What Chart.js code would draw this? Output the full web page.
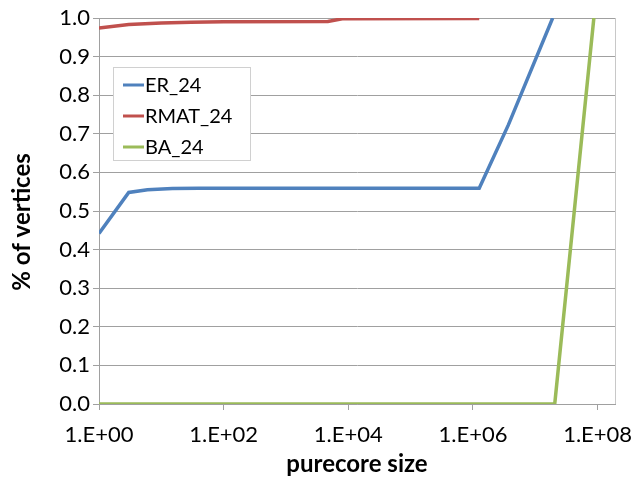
<!DOCTYPE html>
<html>
<head>
<meta charset="utf-8">
<script src="https://cdn.jsdelivr.net/npm/chart.js@4"></script>
<style>
    body { margin: 0; background: #ffffff; }
</style>
</head>
<body>
<canvas id="chart" width="632" height="480"></canvas>
<script>

// data

const seriesNames = ["ER_24", "RMAT_24", "BA_24"];

const erX = [1, 3, 6, 15, 40, 1260000, 3700000, 19000000];
const erY = [0.442, 0.548, 0.555, 0.558, 0.559, 0.559, 0.723, 1.0];

const rmatX = [1, 3, 10, 30, 100, 4700, 8000, 1260000];
const rmatY = [0.974, 0.983, 0.987, 0.989, 0.990, 0.991, 0.998, 0.999];

const baX = [1, 20500000, 87000000];
const baY = [0, 0, 1.0];

const xTickValues = [1, 100, 10000, 1000000, 100000000];
const xTickLabels = ["1.E+00", "1.E+02", "1.E+04", "1.E+06", "1.E+08"];

const seriesColors = ["#4F81BD", "#C0504D", "#9BBB59"];

const yTitle = "% of vertices";


window.onload = function () {

    drawChart();

};


function toPoints(xs, ys) {

    let pts = [];

    for (let i = 0; i < xs.length; i++) {
        pts.push({ x: xs[i], y: ys[i] });
    }

    return pts;

}


// legend sits inside the plot, like the Excel one
const insideLegend = {

    id: "insideLegend",

    afterDatasetsDraw(chart) {

        const ctx = chart.ctx;

        ctx.save();

        ctx.fillStyle = "#ffffff";
        ctx.fillRect(113, 67, 138, 93);
        ctx.strokeStyle = "#d0d0d0";
        ctx.lineWidth = 1;
        ctx.strokeRect(113.5, 67.5, 137, 93);

        ctx.font = "20px Lato";
        ctx.textBaseline = "middle";

        chart.data.datasets.forEach(function (ds, i) {

            let y = 85 + i * 31;

            ctx.strokeStyle = ds.borderColor;
            ctx.lineWidth = 3;
            ctx.beginPath();
            ctx.moveTo(123, y);
            ctx.lineTo(144, y);
            ctx.stroke();

            ctx.fillStyle = "#000000";
            ctx.fillText(ds.label, 145, y + 1);

        });

        // right border of the plot
        const a = chart.chartArea;
        ctx.strokeStyle = "#c8c8c8";
        ctx.lineWidth = 1;
        ctx.beginPath();
        ctx.moveTo(a.right + 0.5, a.top);
        ctx.lineTo(a.right + 0.5, a.bottom);
        ctx.stroke();

        // y axis title, a bit below the middle as in the picture
        ctx.translate(22, 222);
        ctx.rotate(-Math.PI / 2);
        ctx.font = "bold 24px Lato";
        ctx.fillStyle = "#000000";
        ctx.textAlign = "center";
        ctx.textBaseline = "middle";
        ctx.fillText(yTitle, 0, 0);

        ctx.restore();

    }

};


function drawChart() {

    const ctx = document.getElementById("chart").getContext("2d");

    const allX = [erX, rmatX, baX];
    const allY = [erY, rmatY, baY];

    let datasets = seriesNames.map(function (name, i) {
        return {
            label: name,
            data: toPoints(allX[i], allY[i]),
            borderColor: seriesColors[i],
            backgroundColor: seriesColors[i],
            borderWidth: 3.5,
            pointRadius: 0,
            tension: 0,
            clip: 0
        };
    });

    new Chart(ctx, {

        type: "line",

        data: { datasets: datasets },

        plugins: [insideLegend],

        options: {

            responsive: false,
            animation: false,

            layout: {
                padding: { top: 18, right: 17, left: 0, bottom: 0 }
            },

            plugins: {
                legend: { display: false },
                tooltip: { enabled: false }
            },

            scales: {

                x: {
                    type: "logarithmic",
                    min: 1,
                    max: 190000000,
                    afterBuildTicks: function (scale) {
                        scale.ticks = xTickValues.map(function (v) {
                            return { value: v };
                        });
                    },
                    afterFit: function (scale) {
                        scale.height = 76;
                        scale.paddingLeft = 0;
                        scale.paddingRight = 0;
                    },
                    ticks: {
                        color: "#000000",
                        font: { family: "Lato", size: 22 },
                        padding: 12,
                        maxRotation: 0,
                        autoSkip: false,
                        callback: function (value, index) {
                            return xTickLabels[index];
                        }
                    },
                    grid: {
                        display: true,
                        drawOnChartArea: false,
                        drawTicks: true,
                        tickLength: 6,
                        color: "#a0a0a0"
                    },
                    border: { color: "#a0a0a0" },
                    title: {
                        display: true,
                        text: "purecore size",
                        color: "#000000",
                        font: { family: "Lato", size: 24, weight: "bold" },
                        padding: { top: 2, bottom: 1 }
                    }
                },

                y: {
                    min: 0,
                    max: 1,
                    afterFit: function (scale) {
                        scale.width = 99;
                        scale.paddingTop = 0;
                        scale.paddingBottom = 0;
                    },
                    ticks: {
                        stepSize: 0.1,
                        color: "#000000",
                        font: { family: "Lato", size: 22 },
                        padding: 3,
                        callback: function (value) {
                            return value.toFixed(1);
                        }
                    },
                    grid: {
                        color: "#a0a0a0",
                        tickLength: 6
                    },
                    border: { color: "#a0a0a0" }
                }

            }

        }

    });

}

</script>
</body>
</html>
